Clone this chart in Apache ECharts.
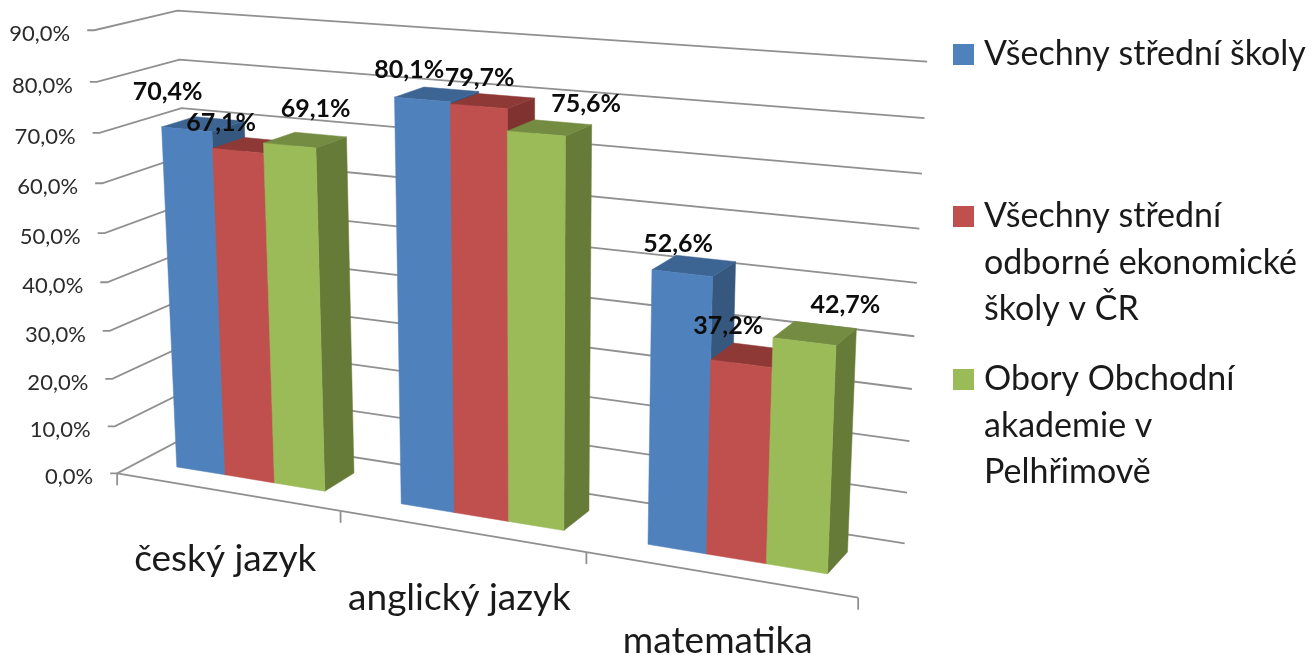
<!DOCTYPE html>
<html><head><meta charset="utf-8">
<style>html,body{margin:0;padding:0;background:#fff}#c{width:1312px;height:655px}</style>
<script src="https://cdn.jsdelivr.net/npm/echarts@6/dist/echarts.min.js"></script>
</head><body><div id="c"></div>
<script>
// ---- data ----
const categories = ['český jazyk', 'anglický jazyk', 'matematika'];
const seriesAll = [70.4, 80.1, 52.6];
const seriesEko = [67.1, 79.7, 37.2];
const seriesOA  = [69.1, 75.6, 42.7];
const yTicks = [0, 10, 20, 30, 40, 50, 60, 70, 80, 90];
const seriesNames = ['Všechny střední školy', 'Všechny střední odborné ekonomické školy v ČR', 'Obory Obchodní akademie v Pelhřimově'];
const legendLines = [['Všechny střední školy'], ['Všechny střední', 'odborné ekonomické', 'školy v ČR'], ['Obory Obchodní', 'akademie v', 'Pelhřimově']];

// ---- styling / layout ----
const FONT = 'Lato, Carlito, sans-serif';
const palette = [
  {front: '#4F81BD', top: '#3D6594', side: '#36587F'},
  {front: '#C0504D', top: '#8F3937', side: '#7F3230'},
  {front: '#9BBB59', top: '#738C42', side: '#667B37'}
];
const GRID_COLOR = '#909090';
const BAR_START = 0.17, BAR_SPAN = 0.67, Z_FRONT = 0.29, Z_BACK = 0.70;
// label nudges from the top-front centre of each bar [series][category]
const labelNudge = [
  [[-19, -37], [-13, -30], [-4, -29]],
  [[-17, -28], [1, -28], [-13, -38]],
  [[26, -37], [50, -30], [41, -37]]
];
// camera calibration: world (category position, value, depth) -> pixel
const calibration = [
  [0, 0, 0, 117, 473], [0, 90, 0, 95, 30], [0, 70, 0, 100, 132], [0, 0, 1, 196, 432],
  [0, 90, 1, 177, 11], [0, 80, 1, 179, 60], [0, 70, 1, 181, 108], [1, 0, 0, 340, 512],
  [2, 0, 0, 586, 553], [3, 0, 0, 858, 597], [3, 0, 1, 905, 543], [3, 10, 1, 907, 492],
  [3, 70, 1, 922, 174], [3, 80, 1, 925, 118], [3, 90, 1, 927, 62]
];

function solve(A, b) {
  const n = b.length, M = A.map((r, i) => r.concat(b[i]));
  for (let i = 0; i < n; i++) {
    let p = i;
    for (let r = i + 1; r < n; r++) if (Math.abs(M[r][i]) > Math.abs(M[p][i])) p = r;
    [M[i], M[p]] = [M[p], M[i]];
    for (let r = 0; r < n; r++) {
      if (r === i) continue;
      const f = M[r][i] / M[i][i];
      for (let c = i; c <= n; c++) M[r][c] -= f * M[i][c];
    }
  }
  return M.map((r, i) => r[n] / r[i]);
}
function fitCamera(pts) {
  const rows = [], rhs = [];
  pts.forEach(([X, Y, Z, u0, v0]) => {
    const x = X / 3, y = Y / 90, z = Z, u = u0 / 1000, v = v0 / 1000;
    rows.push([x, y, z, 1, 0, 0, 0, 0, -u * x, -u * y, -u * z]); rhs.push(u);
    rows.push([0, 0, 0, 0, x, y, z, 1, -v * x, -v * y, -v * z]); rhs.push(v);
  });
  const N = 11, AtA = [], Atb = [];
  for (let i = 0; i < N; i++) {
    AtA.push([]);
    for (let j = 0; j < N; j++) AtA[i].push(rows.reduce((s, r) => s + r[i] * r[j], 0));
    Atb.push(rows.reduce((s, r, k) => s + r[i] * rhs[k], 0));
  }
  return solve(AtA, Atb);
}
const cam = fitCamera(calibration);
function project(X, Y, Z) {
  const x = X / 3, y = Y / 90, z = Z, w = cam[8] * x + cam[9] * y + cam[10] * z + 1;
  return [1000 * (cam[0] * x + cam[1] * y + cam[2] * z + cam[3]) / w,
          1000 * (cam[4] * x + cam[5] * y + cam[6] * z + cam[7]) / w];
}
// read world position through the chart's own axes
function world(api, params, cat, val) {
  const p = api.coord([cat, val]), cs = params.coordSys;
  return [(p[0] - cs.x) / cs.width * categories.length, (cs.y + cs.height - p[1]) / cs.height * 90];
}

function renderWall(params, api) {
  const [ , Y] = world(api, params, 0, api.value(1));
  const a = project(0, Y, 0), b = project(0, Y, 1), c = project(3, Y, 1);
  return {type: 'group', children: [
    {type: 'polyline', z2: 1, shape: {points: [[a[0] - 7, a[1]], a, b, c]},
     style: {stroke: GRID_COLOR, lineWidth: 1.8, fill: null}},
    {type: 'text', z2: 1, style: {text: api.value(1).toFixed(1).replace('.', ',') + '%',
      x: a[0] - 24, y: a[1] + 4, align: 'right', verticalAlign: 'middle', fill: '#2B2B2B', font: '22px ' + FONT}}
  ]};
}
function renderAxisX(params, api) {
  const i = api.value(0);
  const a = project(i, 0, 0), b = project(i + 1, 0, 0), t = project(i + 0.5, 0, 0);
  const kids = [
    {type: 'line', z2: 1, shape: {x1: a[0], y1: a[1], x2: b[0], y2: b[1]}, style: {stroke: GRID_COLOR, lineWidth: 1.8}},
    {type: 'line', z2: 1, shape: {x1: b[0], y1: b[1], x2: b[0], y2: b[1] + 12}, style: {stroke: GRID_COLOR, lineWidth: 1.8}},
    {type: 'text', z2: 1, style: {text: categories[i], x: t[0] - 1, y: t[1] + 67, align: 'center', verticalAlign: 'middle', fill: '#1A1A1A', font: '37px ' + FONT}}
  ];
  if (i === 0) kids.push({type: 'line', z2: 1, shape: {x1: a[0], y1: a[1], x2: a[0], y2: a[1] + 12}, style: {stroke: GRID_COLOR, lineWidth: 1.8}});
  return {type: 'group', children: kids};
}
function barRenderer(sIdx) {
  const col = palette[sIdx];
  return function (params, api) {
    const cat = api.value(0), val = api.value(1);
    const [mid, Y] = world(api, params, cat, val);
    const x0 = mid - 0.5 + BAR_START + BAR_SPAN * sIdx / 3, x1 = x0 + BAR_SPAN / 3;
    const P = (x, y, z) => project(x, y, z);
    const fb = [P(x0, 0, Z_FRONT), P(x1, 0, Z_FRONT), P(x1, Y, Z_FRONT), P(x0, Y, Z_FRONT)];
    const top = [P(x0, Y, Z_FRONT), P(x1, Y, Z_FRONT), P(x1, Y, Z_BACK), P(x0, Y, Z_BACK)];
    const side = [P(x1, 0, Z_FRONT), P(x1, 0, Z_BACK), P(x1, Y, Z_BACK), P(x1, Y, Z_FRONT)];
    const z2 = 10 + sIdx * 3;
    const poly = (points, fill, z) => ({type: 'polygon', z2: z, shape: {points}, style: {fill, stroke: fill, lineWidth: 0.5}});
    const c = P((x0 + x1) / 2, Y, Z_FRONT), n = labelNudge[sIdx][cat];
    return {type: 'group', children: [
      poly(side, col.side, z2), poly(top, col.top, z2 + 1), poly(fb, col.front, z2 + 2),
      {type: 'text', z2: 100, style: {text: val.toFixed(1).replace('.', ',') + '%', x: c[0] + n[0], y: c[1] + n[1],
        align: 'center', verticalAlign: 'middle', fill: '#0D0D0D', font: 'bold 25px ' + FONT}}
    ]};
  };
}
const seriesValues = [seriesAll, seriesEko, seriesOA];
const LEGEND_TEXT = 34, LINE_H = 46.5, ICON = 21;
const legendIconTops = [43, 205, 368];

const chart = echarts.init(document.getElementById('c'), null, {renderer: 'canvas'});
const extraLines = [];
legendLines.forEach((lines, s) => lines.slice(1).forEach((t, k) => extraLines.push({
  type: 'text', left: 984, top: legendIconTops[s] + ICON / 2 + LINE_H * (k + 1) - LEGEND_TEXT / 2 + 1,
  style: {text: t, fill: '#1A1A1A', font: LEGEND_TEXT + 'px ' + FONT}
})));
chart.setOption({
  animation: false,
  backgroundColor: '#fff',
  grid: {left: 100, right: 400, top: 10, bottom: 100},
  xAxis: {type: 'category', data: categories, show: false},
  yAxis: {type: 'value', min: 0, max: 90, interval: 10, show: false},
  legend: seriesNames.map((name, s) => ({
    left: 953, top: legendIconTops[s] - (LEGEND_TEXT - ICON) / 2 + 1, padding: 0, itemWidth: ICON, itemHeight: ICON, itemGap: 0,
    selectedMode: false, icon: 'rect', data: [name], orient: 'vertical',
    formatter: () => legendLines[s][0],
    textStyle: {fontFamily: FONT, fontSize: LEGEND_TEXT, color: '#1A1A1A', padding: [0, 0, 0, 5]}
  })),
  graphic: extraLines,
  series: [
    {type: 'custom', name: 'walls', z: 2, silent: true, renderItem: renderWall, data: yTicks.map(v => [0, v]), clip: false},
    {type: 'custom', name: 'axis', z: 2, silent: true, renderItem: renderAxisX, data: categories.map((c, i) => [i, 0]), clip: false}
  ].concat(seriesNames.map((name, s) => ({
    type: 'custom', name, z: 2, silent: true, clip: false, renderItem: barRenderer(s),
    itemStyle: {color: palette[s].front},
    data: seriesValues[s].map((v, i) => [i, v])
  })))
});
</script></body></html>
